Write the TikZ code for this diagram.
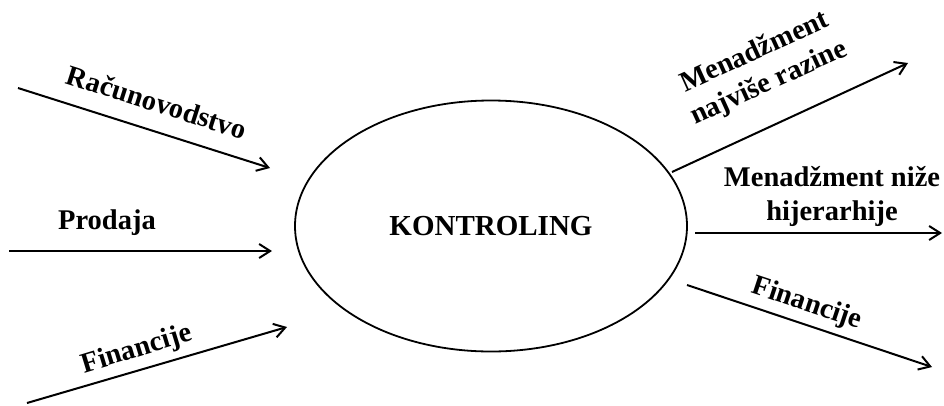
\documentclass[tikz,border=0pt]{standalone}
\usepackage{fontspec}
\setmainfont{Liberation Serif}
\usetikzlibrary{arrows.meta,shapes.geometric}
\tikzset{
  flow/.style={line width=2pt, -{Straight Barb[length=11pt,width=14pt,line width=2pt]}},
  lbl/.style={font=\fontsize{28.5}{34}\selectfont\bfseries, inner sep=0pt, align=center},
}
\begin{document}
\begin{tikzpicture}[x=1pt,y=-1pt]
  \useasboundingbox (0,0) rectangle (944,405);
  \node[draw, ellipse, line width=1.8pt, minimum width=392pt, minimum height=251pt,
        inner sep=0pt, lbl, font=\fontsize{29}{33}\selectfont\bfseries] (ktrl) at (491,226) {KONTROLING};
  % free ends
  \coordinate (rac0) at (18,88);   \coordinate (rac1) at (270,168);
  \coordinate (pro0) at (9,251);   \coordinate (pro1) at (272,251);
  \coordinate (fin0) at (27,403);  \coordinate (fin1) at (287,327);
  \coordinate (top0) at (672,172); \coordinate (top1) at (908,63);
  \coordinate (mid0) at (695,233); \coordinate (mid1) at (942,233);
  \coordinate (bot0) at (687,285); \coordinate (bot1) at (932,367);
  % inputs
  \draw[flow] (rac0) -- (rac1);
  \draw[flow] (pro0) -- (pro1);
  \draw[flow] (fin0) -- (fin1);
  % outputs
  \draw[flow] (top0) -- (top1);
  \draw[flow] (mid0) -- (mid1);
  \draw[flow] (bot0) -- (bot1);
  % labels
  \node[lbl, rotate=-17.6] (racl) at (157,102) {Računovodstvo};
  \node[lbl] (prol) at (107,223) {Prodaja};
  \node[lbl, rotate=17] (finl) at (137,350) {Financije};
  \node[lbl, rotate=24.5] (topl) at (762,68) {Menadžment\\najviše razine};
  \node[lbl] (midl) at (832,196) {Menadžment niže\\hijerarhije};
  \node[lbl, rotate=-18.4] (botl) at (807,304) {Financije};
\end{tikzpicture}
\end{document}
